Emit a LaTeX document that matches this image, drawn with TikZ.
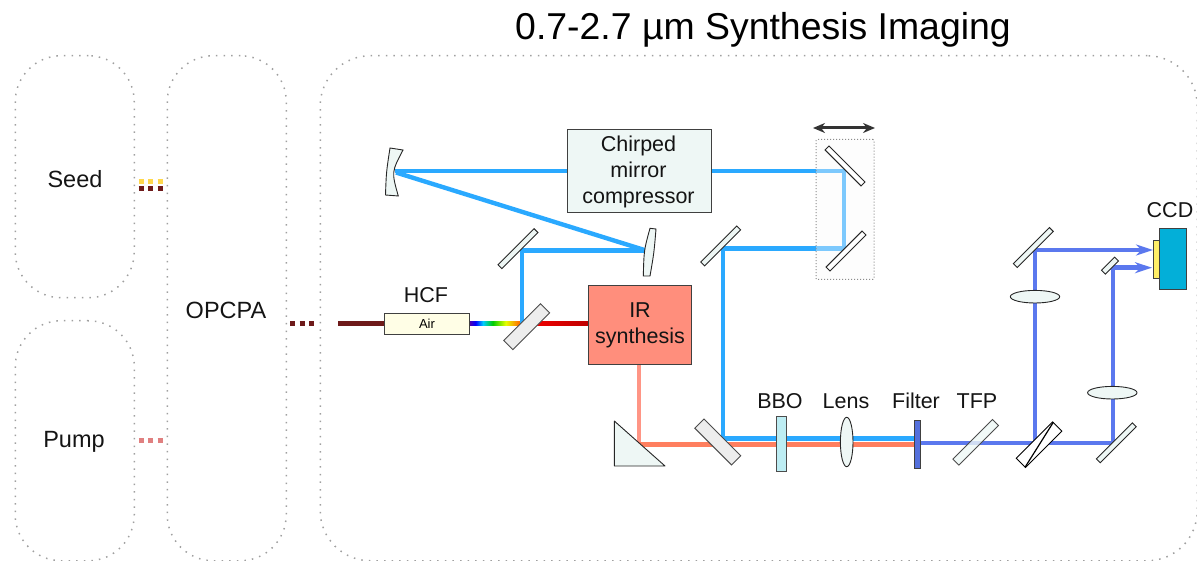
\documentclass[tikz,border=0pt]{standalone}
\usepackage{fontspec}
\setmainfont{Liberation Sans}
\usetikzlibrary{arrows.meta,backgrounds,shapes.geometric}
\definecolor{pale}{HTML}{EEF7F5}
\definecolor{irbeam}{HTML}{2AA9FF}
\definecolor{uvbeam}{HTML}{5B78EE}
\definecolor{pinkbeam}{HTML}{FF9585}
\definecolor{orbeam}{HTML}{FF7F5F}
\definecolor{dkred}{HTML}{6E1A1A}
\definecolor{dotgray}{HTML}{A0A0A0}
\pgfdeclarehorizontalshading{rainbowbeam}{100bp}{
 color(0bp)=(violet!70!blue); color(25bp)=(violet!70!blue);
 color(31bp)=(blue); color(38bp)=(cyan!80!blue); color(47bp)=(green!80!black);
 color(59bp)=(yellow!90!green); color(70bp)=(orange); color(75bp)=(orange!70!red); color(100bp)=(red)}
\tikzset{
 group/.style={draw=dotgray,line width=1.5pt,dash pattern=on 1.5pt off 6.1pt,rounded corners=46pt,inner sep=0pt,anchor=north west},
 lbl/.style={font=\fontsize{21.5}{26}\selectfont,inner sep=0pt,align=center,text=black!92},
 biglbl/.style={font=\fontsize{23.5}{26}\selectfont,inner sep=0pt,align=center,text=black!92},
 titlelbl/.style={font=\fontsize{37.4}{42}\selectfont,inner sep=0pt},
 mirror/.style={draw=black!85,line width=0.9pt,fill=pale,inner sep=0pt,minimum height=5.5pt,minimum width=51pt,rotate=#1},
 plate/.style={draw=black!70,line width=0.9pt,fill=black!7,inner sep=0pt,minimum height=13pt,minimum width=52pt,rotate=#1},
 boxnode/.style={draw=black!75,line width=1pt,inner sep=0pt,anchor=north west},
 lensnode/.style={draw=black!85,line width=0.9pt,fill=pale,ellipse,inner sep=0pt},
 beam/.style={line width=4.4pt,line join=miter},
 irb/.style={beam,draw=irbeam},
 uvb/.style={beam,draw=uvbeam},
 dots/.style={line width=5pt,dash pattern=on 5pt off 4.5pt}
}
\begin{document}
\begin{tikzpicture}[x=1pt,y=-1pt]
\useasboundingbox (0,0) rectangle (1197,561);
% title and outer groups
\node[titlelbl] (title) at (763,30) {0.7-2.7 µm Synthesis Imaging};
\node[group,minimum width=119pt,minimum height=242pt] (seedbox) at (14.5,55) {};
\node[group,minimum width=119pt,minimum height=240pt] (pumpbox) at (14.5,320) {};
\node[group,minimum width=119pt,minimum height=505pt] (opcpabox) at (166.5,55) {};
\node[group,minimum width=877pt,minimum height=505pt,rounded corners=50pt] (mainbox) at (319.5,55) {};
\node[biglbl] (seedl) at (75,179) {Seed};
\node[biglbl] (pumpl) at (74,441.5) {Pump};
\node[biglbl] (opcpal) at (226,310.5) {OPCPA};
% translation stage
\node[draw=black!45,line width=1pt,dotted,fill=black!2,fill opacity=0.4,minimum width=58pt,minimum height=140pt,inner sep=0pt,anchor=north west,rounded corners=1pt] (stage) at (815.5,139) {};
\coordinate (stageL) at (813,128);
\coordinate (stageR) at (875,128);
\draw[line width=3pt,draw=black!80,{Stealth[length=12pt,width=10pt]}-{Stealth[length=12pt,width=10pt]}] (stageL) -- (stageR);
% boxes
\node[boxnode,fill=pale,minimum width=144pt,minimum height=83pt] (cmc) at (566.5,129) {};
\node[lbl] (cmcl) at (638.5,171.5) {Chirped\\mirror\\compressor};
\node[boxnode,fill=yellow!10!white,minimum width=85pt,minimum height=21pt] (hcf) at (384,313) {};
\node[font=\fontsize{13}{15}\selectfont,inner sep=0pt] (airl) at (427,324) {Air};
\node[lbl] (hcfl) at (426,295) {HCF};
\node[boxnode,fill={rgb,255:red,255;green,142;blue,124},minimum width=103pt,minimum height=78pt] (ir) at (587.5,285.5) {};
\node[lbl] (irl) at (640,325.5) {IR\\synthesis};
% mirrors
\node[mirror=45] (m1) at (518,248.7) {};
\node[plate=45] (bs1) at (526.7,326.7) {};
\node[mirror=45] (m2) at (720.7,246) {};
\node[mirror=-45,fill=white] (m3) at (845,166) {};
\node[mirror=45,fill=white] (m4) at (846,251) {};
\node[plate=-45] (bs2) at (717.8,442) {};
\node[boxnode,fill={rgb,255:red,189;green,237;blue,243},draw=black!70,minimum width=10.3pt,minimum height=54.7pt] (bbo) at (776,416) {};
\node[lensnode,minimum width=12.6pt,minimum height=49.4pt] (lens) at (846.7,442) {};
\node[boxnode,fill={rgb,255:red,84;green,112;blue,220},minimum width=6pt,minimum height=48pt] (filter) at (914,419.7) {};
\node[lbl] (bbol) at (780,401) {BBO};
\node[lbl] (lensl) at (846,401) {Lens};
\node[lbl] (filterl) at (916,401) {Filter};
\node[lbl] (tfpl) at (977,401) {TFP};
\node[mirror=45,draw=black!70,fill opacity=0.8,minimum height=8.5pt,minimum width=56pt] (tfp) at (975.7,442.3) {};
\node[plate=45,draw=black,fill=white,minimum width=51.4pt] (wp) at (1039,444.7) {};
\coordinate (wptop) at (1053.3,422.3);
\coordinate (wpbot) at (1025,467.3);
\draw[line width=1.2pt,black] (wptop) -- (wpbot);
\node[mirror=45] (m5) at (1033.3,247.5) {};
\node[mirror=45] (m6) at (1116.3,442.8) {};
\node[mirror=45,minimum width=18.6pt] (m7) at (1110,265.7) {};
\node[lensnode,minimum width=49.4pt,minimum height=12.6pt] (lens2) at (1035,296.7) {};
\node[lensnode,minimum width=49.4pt,minimum height=12.6pt] (lens3) at (1112.3,392.7) {};
% CCD
\node[boxnode,fill={rgb,255:red,3;green,175;blue,216},minimum width=27.3pt,minimum height=60.4pt] (ccd) at (1159,228.3) {};
\node[boxnode,fill={rgb,255:red,255;green,238;blue,102},minimum width=6pt,minimum height=37.7pt] (chip) at (1153,240) {};
\node[lbl] (ccdl) at (1170,210) {CCD};
% curved mirrors and prism
\coordinate (cl1) at (390,148); \coordinate (cl2) at (403,150);
\coordinate (cl3) at (398.3,196); \coordinate (cl4) at (385.5,195);
\draw[draw=black!85,line width=0.9pt,fill=pale] (cl1) .. controls (386.3,172) .. (cl4) -- (cl3) .. controls (391.5,172) .. (cl2) -- cycle;
\coordinate (cr1) at (650,228.3); \coordinate (cr2) at (656,229);
\coordinate (cr3) at (650,276); \coordinate (cr4) at (643.3,276);
\draw[draw=black!85,line width=0.9pt,fill=pale] (cr1) .. controls (644,250) .. (cr4) -- (cr3) .. controls (654,253) .. (cr2) -- cycle;
\coordinate (pr1) at (614.3,421); \coordinate (pr2) at (665,466); \coordinate (pr3) at (614.3,466);
\draw[draw=black!85,line width=0.9pt,fill=pale,line join=round] (pr1) -- (pr2) -- (pr3) -- cycle;
% beam hit points
\coordinate (hitL) at (395,171);
\coordinate (hitL2) at (396,172.5);
\coordinate (hitR) at (646,250.5);
\coordinate (hitM1) at (521.7,250.5);
\coordinate (hitBS) at (521.7,323.5);
\coordinate (hitM3) at (844,170.8);
\coordinate (hitM4) at (844,248.5);
\coordinate (hitM2) at (722.7,248.5);
\coordinate (hitB2) at (722.7,438.3);
\coordinate (hitP) at (639,444.3);
\coordinate (hitM5) at (1035,250);
\coordinate (hitWP) at (1035,442.7);
\coordinate (hitM6) at (1112.7,442.7);
\coordinate (hitM7) at (1112.7,267.7);
\coordinate (fiberin) at (338,323.5);
\coordinate (opcpaA) at (290.2,323.7); \coordinate (opcpaB) at (314.5,323.7);
\coordinate (seedA1) at (138.5,182); \coordinate (seedB1) at (163,182);
\coordinate (seedA2) at (138.5,189); \coordinate (seedB2) at (163,189);
\coordinate (pumpA) at (138.5,440); \coordinate (pumpB) at (163,440);
\coordinate (tipA) at (1153,250);
\coordinate (tipB) at (1152,267.7);
\coordinate (rbA) at (469,321.3); \coordinate (rbB) at (523,325.7);
\coordinate (rdA) at (530,321.3); \coordinate (rdB) at (588,325.7);
\begin{scope}[on background layer]
 \draw[dots,draw={rgb,255:red,255;green,216;blue,77}] (seedA1) -- (seedB1);
 \draw[dots,draw=dkred] (seedA2) -- (seedB2);
 \draw[dots,draw={rgb,255:red,224;green,128;blue,128}] (pumpA) -- (pumpB);
 \draw[dots,draw=dkred] (opcpaA) -- (opcpaB);
 \draw[beam,draw=dkred] (fiberin) -- (hcf.west |- fiberin);
 \shade[shading=rainbowbeam] (rbA) rectangle (rbB);
 \shade[left color=red!95!black,right color=red!75!black] (rdA) rectangle (rdB);
 \draw[irb] (hitL) -- (cmc.west |- hitL);
 \draw[irb] (cmc.east |- hitM3) -- (hitM3) -- (hitM4) -- (hitM2) -- (hitB2) -- (bbo.west |- hitB2);
 \draw[irb] (bbo.east |- hitB2) -- (filter.west |- hitB2);
 \draw[irb] (hitL2) -- (hitR);
 \draw[irb] (hitR) -- (hitM1) -- (hitBS);
 \draw[beam,draw=pinkbeam] (ir.south -| hitP) -- (hitP);
 \draw[beam,draw=orbeam] (hitP) -- (filter.west |- hitP);
 \draw[uvb] (filter.east |- hitWP) -- (hitM6) -- (hitM7) -- (m7.center |- hitM7);
 \draw[uvb] (hitWP) -- (hitM5) -- (m5.center |- hitM5);
 \draw[uvb,-{Stealth[length=17pt,width=11pt]}] (hitM5) -- (tipA);
 \draw[uvb,-{Stealth[length=17pt,width=11pt]}] (hitM7) -- (tipB);
\end{scope}
\end{tikzpicture}
\end{document}
